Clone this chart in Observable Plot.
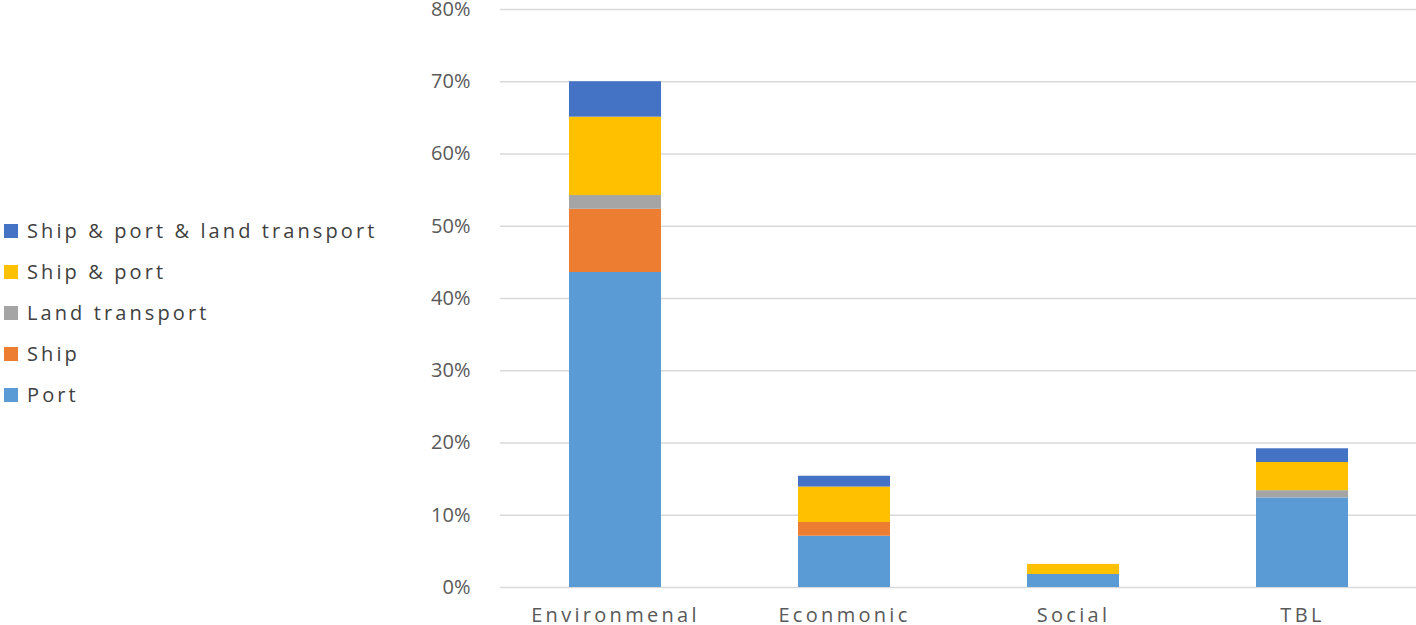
<!DOCTYPE html>
<html><head><meta charset="utf-8">
<script src="https://cdn.jsdelivr.net/npm/d3@7"></script>
<script src="https://cdn.jsdelivr.net/npm/@observablehq/plot@0.6"></script>
<style>
body{margin:0;background:#fff;font-family:"Open Sans",sans-serif;}
#wrap{position:relative;width:1416px;height:625px;}
#legend{position:absolute;left:4px;top:210px;font-size:20px;color:#404040;letter-spacing:3.1px;}
.li{display:flex;align-items:center;height:41px;white-space:nowrap;}
.sw{width:14px;height:14px;margin-right:9px;}
</style></head><body>
<div id="wrap"><div id="chart"></div><div id="legend"></div></div>
<script>
const categories = ["Environmenal","Econmonic","Social","TBL"];
const seriesNames = ["Port","Ship","Land transport","Ship & port","Ship & port & land transport"];
const port = [0.436, 0.071, 0.018, 0.124];
const ship = [0.0875, 0.019, 0, 0];
const landTransport = [0.019, 0, 0, 0.010];
const shipAndPort = [0.1085, 0.049, 0.014, 0.039];
const shipPortLand = [0.049, 0.015, 0, 0.019];
const colors = ["#5B9BD5","#ED7D31","#A5A5A5","#FFC000","#4472C4"];
const yTicks = [0,0.1,0.2,0.3,0.4,0.5,0.6,0.7,0.8];

const seriesValues = [port, ship, landTransport, shipAndPort, shipPortLand];
const data = [];
seriesNames.forEach((s,i)=>categories.forEach((c,j)=>data.push({category:c, series:s, value:seriesValues[i][j]})));

const chart = Plot.plot({
  width:1416, height:625,
  marginLeft:500, marginRight:0, marginTop:9, marginBottom:38,
  style:{fontFamily:"Open Sans, sans-serif", fontSize:"20px", color:"#595959", overflow:"visible"},
  x:{domain:categories, paddingInner:0.6, paddingOuter:0.3, label:null},
  y:{domain:[0,0.8], label:null},
  color:{domain:seriesNames, range:colors},
  marks:[
    Plot.gridY(yTicks,{stroke:"#d9d9d9", strokeOpacity:1, strokeWidth:1.5}),
    Plot.barY(data,{x:"category", y:"value", fill:"series", order:seriesNames}),
    Plot.axisY(yTicks,{tickFormat:d3.format(".0%"), tickSize:0, tickPadding:30, fill:"#595959"}),
    Plot.axisX({tickSize:0, tickPadding:20, fill:"#595959"})
  ]
});
chart.querySelectorAll('[aria-label="x-axis tick label"]').forEach(g=>g.setAttribute("letter-spacing","3.3"));
document.getElementById("chart").appendChild(chart);

const lg = document.getElementById("legend");
for (let i = seriesNames.length-1; i>=0; i--) {
  const d = document.createElement("div"); d.className="li";
  d.innerHTML = `<span class="sw" style="background:${colors[i]}"></span><span>${seriesNames[i]}</span>`;
  lg.appendChild(d);
}
</script></body></html>
